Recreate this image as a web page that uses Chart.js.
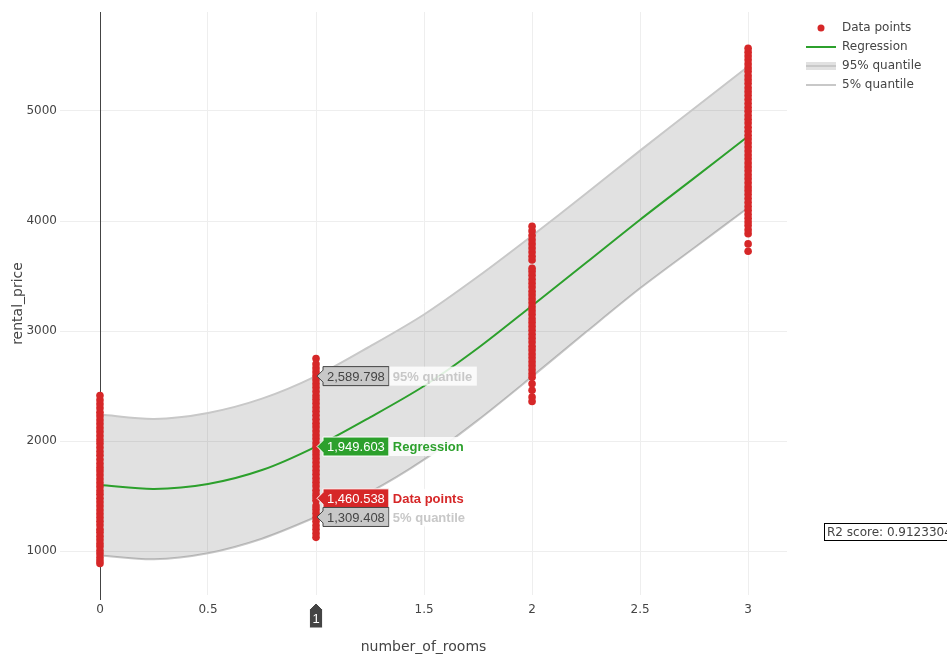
<!DOCTYPE html>
<html>
<head>
<meta charset="utf-8">
<script src="https://cdn.jsdelivr.net/npm/chart.js@4.4.1/dist/chart.umd.min.js"></script>
<style>
  html, body { margin: 0; padding: 0; background: #fff; }
  #wrap { width: 947px; height: 660px; position: relative; }
</style>
</head>
<body>
<div id="wrap"><canvas id="chartRental"></canvas></div>
<script>
// Rooms at which the fitted curves are sampled
const curveRooms = [0, 0.25, 0.5, 0.75, 1, 1.25, 1.5, 1.75, 2, 2.25, 2.5, 2.75, 3];
const regressionPrice = [1600, 1564, 1609, 1736, 1949.603, 2215, 2500, 2845, 3230, 3620, 4012, 4390, 4770];
const upperQuantile = [2240, 2200, 2255, 2385, 2589.798, 2860, 3150, 3495, 3866, 4250, 4640, 5022, 5405];
const lowerQuantile = [960, 925, 980, 1112, 1309.408, 1535, 1830, 2190, 2585, 2990, 3388, 3755, 4120];

// Observed rental prices per number of rooms
const pricesRooms0 = [886, 912, 940, 975, 1004, 1040, 1068, 1102, 1135, 1170, 1198, 1236, 1270, 1305, 1338,
  1372, 1410, 1446, 1480, 1515, 1548, 1585, 1620, 1655, 1692, 1728, 1760, 1796, 1832, 1870, 1905, 1940,
  1978, 2012, 2048, 2085, 2120, 2156, 2190, 2228, 2262, 2300, 2336, 2372, 2414];
const pricesRooms1 = [1124, 1160, 1198, 1232, 1270, 1305, 1342, 1378, 1410, 1460.538, 1490, 1518, 1552, 1590,
  1625, 1660, 1698, 1732, 1768, 1805, 1840, 1876, 1910, 1948, 1982, 2020, 2055, 2090, 2128, 2162, 2198,
  2234, 2270, 2305, 2342, 2378, 2412, 2450, 2486, 2520, 2556, 2592, 2628, 2664, 2700, 2750];
const pricesRooms2 = [2360, 2400, 2462, 2520, 2580, 2612, 2648, 2685, 2720, 2756, 2790, 2828, 2862, 2900,
  2935, 2970, 3006, 3042, 3078, 3112, 3150, 3185, 3220, 3256, 3292, 3328, 3362, 3400, 3435, 3470, 3506,
  3542, 3570, 3645, 3680, 3718, 3755, 3792, 3830, 3868, 3910, 3952];
const pricesRooms3 = [3725, 3792, 3885, 3920, 3958, 3990, 4025, 4060, 4098, 4132, 4168, 4205, 4240, 4276,
  4310, 4348, 4385, 4420, 4456, 4492, 4528, 4565, 4600, 4636, 4672, 4708, 4745, 4780, 4816, 4852, 4890,
  4925, 4960, 4998, 5032, 5068, 5105, 5140, 5176, 5212, 5250, 5285, 5320, 5358, 5392, 5428, 5465, 5500,
  5535, 5570];
const roomGroups = [0, 1, 2, 3];
const priceGroups = [pricesRooms0, pricesRooms1, pricesRooms2, pricesRooms3];

// Axis ticks
const xTicks = [0, 0.5, 1, 1.5, 2, 2.5, 3];
const yTicks = [1000, 2000, 3000, 4000, 5000];

// Hover state shown in the picture
const hoverRooms = 1;
const hoverPointPrice = 1460.538;
const r2Text = 'R2 score: 0.9123304';

const RED = '#d62728';
const GREEN = '#2ca02c';
const GREY = 'rgb(200, 200, 200)';
const BAND = 'rgba(68, 68, 68, 0.16)';
const TEXT = '#444';
const AXIS_FONT = "'DejaVu Sans', Verdana, sans-serif";
const HOVER_FONT = "'Liberation Sans', Arial, sans-serif";

function toPoints(xs, ys) {
  return xs.map((x, i) => ({ x: x, y: ys[i] }));
}

const scatterPoints = [];
roomGroups.forEach((rooms, g) => {
  priceGroups[g].forEach(p => scatterPoints.push({ x: rooms, y: p }));
});

function fmt(v) {
  return v.toLocaleString('en-US', { minimumFractionDigits: 3, maximumFractionDigits: 3 });
}

// Zero line on x, drawn after the grid so it stays unbroken
const zeroLinePlugin = {
  id: 'zeroLine',
  beforeDatasetsDraw(chart) {
    const ctx = chart.ctx;
    const zx = Math.round(chart.scales.x.getPixelForValue(0)) + 0.5;
    ctx.save();
    ctx.strokeStyle = TEXT;
    ctx.lineWidth = 1;
    ctx.beginPath();
    ctx.moveTo(zx, chart.chartArea.top);
    ctx.lineTo(zx, chart.chartArea.bottom + 5);
    ctx.stroke();
    ctx.restore();
  }
};

// Plotly-like hover labels at the hovered x
function drawHoverLabel(ctx, tipX, cy, valueText, nameText, bg, fg, nameColor) {
  const h = 19, arrow = 6, pad = 4;
  ctx.font = '13px ' + HOVER_FONT;
  const w = ctx.measureText(valueText).width + pad * 2;
  const bx = tipX + arrow;
  ctx.beginPath();
  ctx.moveTo(tipX, cy);
  ctx.lineTo(bx, cy - arrow);
  ctx.lineTo(bx, cy - h / 2);
  ctx.lineTo(bx + w, cy - h / 2);
  ctx.lineTo(bx + w, cy + h / 2);
  ctx.lineTo(bx, cy + h / 2);
  ctx.lineTo(bx, cy + arrow);
  ctx.closePath();
  ctx.fillStyle = bg;
  ctx.fill();
  ctx.strokeStyle = fg;
  ctx.lineWidth = 1;
  ctx.stroke();
  ctx.fillStyle = fg;
  ctx.textBaseline = 'middle';
  ctx.textAlign = 'left';
  ctx.fillText(valueText, bx + pad, cy + 1);

  ctx.font = 'bold 13px ' + HOVER_FONT;
  const nw = ctx.measureText(nameText).width;
  ctx.fillStyle = 'rgba(255, 255, 255, 0.85)';
  ctx.fillRect(bx + w + 0.5, cy - h / 2, nw + 8, h);
  ctx.fillStyle = nameColor;
  ctx.fillText(nameText, bx + w + 4, cy + 1);
}

const hoverPlugin = {
  id: 'hoverLabels',
  afterDatasetsDraw(chart) {
    const ctx = chart.ctx;
    const xs = chart.scales.x, ys = chart.scales.y;
    const ds = chart.data.datasets;
    const i = curveRooms.indexOf(hoverRooms);
    const tipX = xs.getPixelForValue(hoverRooms) + 1;
    const rows = [
      { v: upperQuantile[i], name: ds[2].label, bg: GREY, fg: TEXT, nc: GREY, dy: 0 },
      { v: regressionPrice[i], name: ds[1].label, bg: GREEN, fg: '#fff', nc: GREEN, dy: 0 },
      { v: hoverPointPrice, name: ds[0].label, bg: RED, fg: '#fff', nc: RED, dy: -2 },
      { v: lowerQuantile[i], name: ds[3].label, bg: GREY, fg: TEXT, nc: GREY, dy: 0 }
    ];
    ctx.save();
    rows.forEach(r => {
      drawHoverLabel(ctx, tipX, ys.getPixelForValue(r.v) + r.dy, fmt(r.v), r.name, r.bg, r.fg, r.nc);
    });

    // x spike label
    const sx = xs.getPixelForValue(hoverRooms);
    const top = chart.chartArea.bottom + 8;
    ctx.font = '13px ' + HOVER_FONT;
    const txt = String(hoverRooms);
    const tw = ctx.measureText(txt).width + 6;
    ctx.beginPath();
    ctx.moveTo(sx, top);
    ctx.lineTo(sx + 6, top + 6);
    ctx.lineTo(sx + tw / 2, top + 6);
    ctx.lineTo(sx + tw / 2, top + 25);
    ctx.lineTo(sx - tw / 2, top + 25);
    ctx.lineTo(sx - tw / 2, top + 6);
    ctx.lineTo(sx - 6, top + 6);
    ctx.closePath();
    ctx.fillStyle = TEXT;
    ctx.fill();
    ctx.strokeStyle = '#fff';
    ctx.stroke();
    ctx.fillStyle = '#fff';
    ctx.textAlign = 'center';
    ctx.textBaseline = 'middle';
    ctx.fillText(txt, sx, top + 16);
    ctx.restore();
  }
};

// Legend and R2 annotation
const legendPlugin = {
  id: 'sideLegend',
  afterDraw(chart) {
    const ctx = chart.ctx;
    const ds = chart.data.datasets;
    const x0 = 806, tx = 842, y0 = 28, step = 19;
    ctx.save();
    ctx.font = '12px ' + AXIS_FONT;
    ctx.textBaseline = 'middle';
    ctx.textAlign = 'left';
    ds.forEach((d, k) => {
      const cy = y0 + k * step;
      if (k === 0) {
        ctx.beginPath();
        ctx.arc(x0 + 15, cy, 3.5, 0, Math.PI * 2);
        ctx.fillStyle = RED;
        ctx.fill();
      } else if (k === 2) {
        ctx.fillStyle = BAND;
        ctx.fillRect(x0, cy - 4, 30, 8);
        ctx.strokeStyle = GREY;
        ctx.lineWidth = 2;
        ctx.beginPath();
        ctx.moveTo(x0, cy);
        ctx.lineTo(x0 + 30, cy);
        ctx.stroke();
      } else {
        ctx.strokeStyle = k === 1 ? GREEN : GREY;
        ctx.lineWidth = 2;
        ctx.beginPath();
        ctx.moveTo(x0, cy);
        ctx.lineTo(x0 + 30, cy);
        ctx.stroke();
      }
      ctx.fillStyle = TEXT;
      ctx.fillText(d.label, tx, cy);
    });

    // R2 score box, running past the right edge
    ctx.fillStyle = '#fff';
    ctx.fillRect(824.5, 523.5, 140, 17);
    ctx.strokeStyle = '#000';
    ctx.lineWidth = 1;
    ctx.strokeRect(824.5, 523.5, 140, 17);
    ctx.fillStyle = TEXT;
    ctx.fillText(r2Text, 827, 532.5);
    ctx.restore();
  }
};

const chart = new Chart(document.getElementById('chartRental'), {
  type: 'scatter',
  data: {
    datasets: [
      {
        label: 'Data points',
        data: scatterPoints,
        backgroundColor: RED,
        borderWidth: 0,
        pointRadius: 3.8
      },
      {
        label: 'Regression',
        data: toPoints(curveRooms, regressionPrice),
        showLine: true,
        borderColor: GREEN,
        borderWidth: 2,
        pointRadius: 0,
        tension: 0.3
      },
      {
        label: '95% quantile',
        data: toPoints(curveRooms, upperQuantile),
        showLine: true,
        borderColor: GREY,
        borderWidth: 2,
        pointRadius: 0,
        tension: 0.3,
        fill: '+1',
        backgroundColor: BAND
      },
      {
        label: '5% quantile',
        data: toPoints(curveRooms, lowerQuantile),
        showLine: true,
        borderColor: GREY,
        borderWidth: 2,
        pointRadius: 0,
        tension: 0.3
      }
    ]
  },
  options: {
    responsive: true,
    maintainAspectRatio: false,
    animation: false,
    events: [],
    layout: { padding: { left: 0, top: 12, right: 160, bottom: 0 } },
    plugins: {
      legend: { display: false },
      tooltip: { enabled: false }
    },
    scales: {
      x: {
        type: 'linear',
        min: -0.185,
        max: 3.18,
        afterBuildTicks: s => { s.ticks = xTicks.map(v => ({ value: v })); },
        afterFit: s => { s.height = 65; },
        border: { display: false },
        grid: {
          drawTicks: false,
          color: c => (c.tick && c.tick.value === 0 ? 'rgba(0,0,0,0)' : '#eee'),
          lineWidth: 1
        },
        ticks: {
          padding: 8,
          font: { family: AXIS_FONT, size: 12 },
          color: c => (c.tick && c.tick.value === hoverRooms ? 'rgba(0,0,0,0)' : TEXT),
          callback: v => String(v)
        },
        title: {
          display: true,
          text: 'number_of_rooms',
          color: TEXT,
          font: { family: AXIS_FONT, size: 14 },
          padding: { top: 0, bottom: 4 }
        }
      },
      y: {
        type: 'linear',
        min: 600,
        max: 5900,
        afterBuildTicks: s => { s.ticks = yTicks.map(v => ({ value: v })); },
        afterFit: s => { s.width = 60; },
        border: { display: false },
        grid: { drawTicks: false, color: '#eee', lineWidth: 1 },
        ticks: {
          padding: 3,
          font: { family: AXIS_FONT, size: 12 },
          color: TEXT,
          callback: v => String(v)
        },
        title: {
          display: true,
          text: 'rental_price',
          color: TEXT,
          font: { family: AXIS_FONT, size: 14 },
          padding: { top: 10, bottom: 0 }
        }
      }
    }
  },
  plugins: [zeroLinePlugin, hoverPlugin, legendPlugin]
});
</script>
</body>
</html>
